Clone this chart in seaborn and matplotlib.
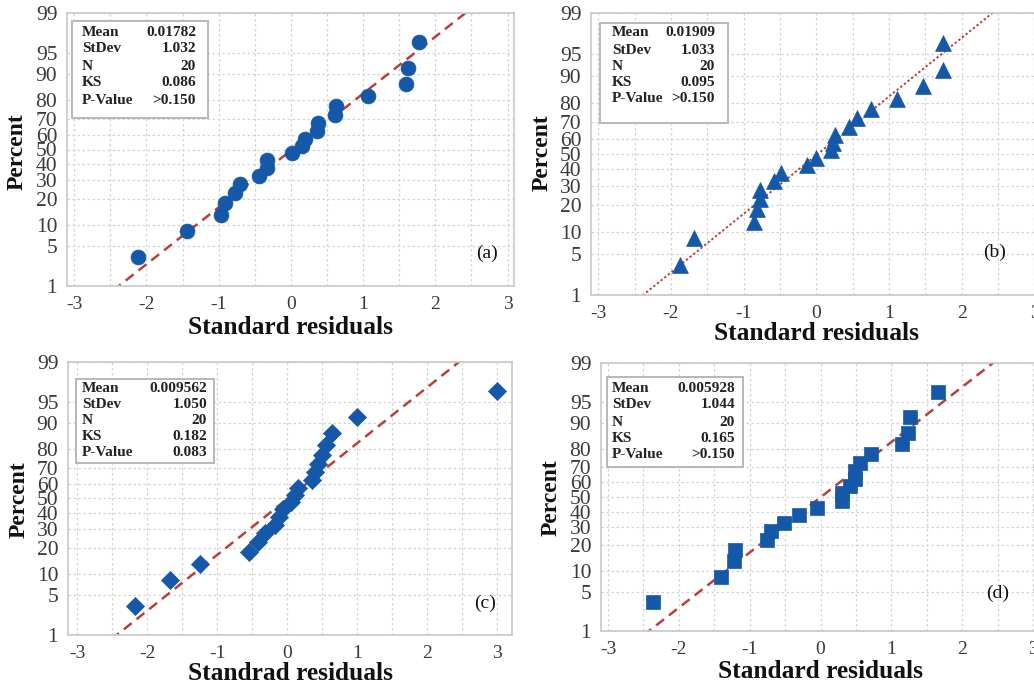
import math
import numpy as np
import matplotlib
matplotlib.use("Agg")
import matplotlib.pyplot as plt
import seaborn as sns
from matplotlib.patches import Rectangle

# ---------------- data ----------------
percent_pos = [3.4, 8.3, 13.2, 18.1, 23.0, 27.9, 32.8, 37.7, 42.6, 47.5,
               52.5, 57.4, 62.3, 67.2, 72.1, 77.0, 81.9, 86.8, 91.7, 96.6]

resid_a = [-2.11, -1.44, -0.97, -0.91, -0.78, -0.70, -0.44, -0.33, -0.33, 0.02,
           0.15, 0.19, 0.36, 0.37, 0.61, 0.63, 1.07, 1.59, 1.62, 1.78]
resid_b = [-1.88, -1.69, -0.86, -0.81, -0.78, -0.78, -0.58, -0.49, -0.13, 0.00,
           0.20, 0.23, 0.26, 0.45, 0.56, 0.75, 1.11, 1.47, 1.74, 1.74]
resid_c = [-2.18, -1.68, -1.25, -0.54, -0.42, -0.31, -0.18, -0.11, -0.06, 0.05,
           0.11, 0.15, 0.36, 0.40, 0.44, 0.49, 0.56, 0.64, 0.99, 2.99]
resid_d = [-2.36, -1.40, -1.22, -1.21, -0.75, -0.70, -0.52, -0.31, -0.05, 0.31,
           0.31, 0.41, 0.49, 0.49, 0.56, 0.71, 1.15, 1.24, 1.26, 1.66]

stat_names = ["Mean", "StDev", "N", "KS", "P-Value"]
stats_a = ["0.01782", "1.032", "20", "0.086", ">0.150"]
stats_b = ["0.01909", "1.033", "20", "0.095", ">0.150"]
stats_c = ["0.009562", "1.050", "20", "0.182", "0.083"]
stats_d = ["0.005928", "1.044", "20", "0.165", ">0.150"]

fit_a = (0.01782, 1.032)
fit_b = (0.01909, 1.033)
fit_c = (0.009562, 1.050)
fit_d = (0.005928, 1.044)

y_ticks = [1, 5, 10, 20, 30, 40, 50, 60, 70, 80, 90, 95, 99]
x_ticks = [-3, -2, -1, 0, 1, 2, 3]

# ---------------- normal helpers ----------------
_a = [-3.969683028665376e+01, 2.209460984245205e+02, -2.759285104469687e+02,
      1.383577518672690e+02, -3.066479806614716e+01, 2.506628277459239e+00]
_b = [-5.447609879822406e+01, 1.615858368580409e+02, -1.556989798598866e+02,
      6.680131188771972e+01, -1.328068155288572e+01]
_c = [-7.784894002430293e-03, -3.223964580411365e-01, -2.400758277161838e+00,
      -2.549732539343734e+00, 4.374664141464968e+00, 2.938163982698783e+00]
_d = [7.784695709041462e-03, 3.224671290700398e-01, 2.445134137142996e+00,
      3.754408661907416e+00]


def _ppf_scalar(p):
    p = min(max(p, 1e-12), 1 - 1e-12)
    plow = 0.02425
    if p < plow:
        q = math.sqrt(-2 * math.log(p))
        return (((((_c[0]*q+_c[1])*q+_c[2])*q+_c[3])*q+_c[4])*q+_c[5]) / \
               ((((_d[0]*q+_d[1])*q+_d[2])*q+_d[3])*q+1)
    if p > 1 - plow:
        q = math.sqrt(-2 * math.log(1 - p))
        return -(((((_c[0]*q+_c[1])*q+_c[2])*q+_c[3])*q+_c[4])*q+_c[5]) / \
                ((((_d[0]*q+_d[1])*q+_d[2])*q+_d[3])*q+1)
    q = p - 0.5
    r = q * q
    return (((((_a[0]*r+_a[1])*r+_a[2])*r+_a[3])*r+_a[4])*r+_a[5])*q / \
           (((((_b[0]*r+_b[1])*r+_b[2])*r+_b[3])*r+_b[4])*r+1)


def pct_to_z(v):
    v = np.asarray(v, dtype=float)
    out = np.array([_ppf_scalar(x / 100.0) if np.isfinite(x) else np.nan
                    for x in v.ravel()])
    return out.reshape(v.shape)


def z_to_pct(z):
    z = np.asarray(z, dtype=float)
    out = np.array([50.0 * (1 + math.erf(x / math.sqrt(2))) if np.isfinite(x) else np.nan
                    for x in z.ravel()])
    return out.reshape(z.shape)


# ---------------- figure ----------------
W, H = 1034, 689
sns.set_style("white")
plt.rcParams["font.family"] = ["Liberation Serif", "DejaVu Serif"]
fig = plt.figure(figsize=(W / 100, H / 100), dpi=100)

BLUE = "#1558a8"
RED = "#b8403a"
GRID = "#d4d4d4"
FRAME = "#c8c8c8"
TICKC = "#4a4a4a"


def px_ax(left, top, right, bottom):
    return fig.add_axes([left / W, 1 - bottom / H, (right - left) / W, (bottom - top) / H])


def fx(x):
    return x / W


def fy(y):
    return 1 - y / H


panels = [
    dict(box=(67, 13, 514, 286), xlim=(-3.1, 3.09), resid=resid_a, fit=fit_a, marker="o", ms=115,
         ls=(0, (4, 2.5)), lw=1.8, stats=stats_a, sbox=(72, 21, 208, 118), lab_x=82, val_x=196,
         rows=[32, 49, 66, 83, 100], tag="(a)", tag_xy=(487, 253), ylab=(17, 152),
         xlab_y=328, xlabel="Standard residuals"),
    dict(box=(591, 13, 1041, 295), xlim=(-3.1, 3.09), resid=resid_b, fit=fit_b, marker="^", ms=130,
         ls=(0, (1.2, 1.2)), lw=1.4, stats=stats_b, sbox=(600, 23, 728, 123), lab_x=612, val_x=715,
         rows=[33, 50, 66, 82, 99], tag="(b)", tag_xy=(995, 252), ylab=(542, 153),
         xlab_y=333, xlabel="Standard residuals"),
    dict(box=(68, 362, 512, 635), xlim=(-3.13, 3.21), resid=resid_c, fit=fit_c, marker="D", ms=85,
         ls=(0, (4, 2.5)), lw=1.8, stats=stats_c, sbox=(76, 379, 214, 463), lab_x=82, val_x=207,
         rows=[389, 405, 421, 437, 453], tag="(c)", tag_xy=(485, 603), ylab=(19, 500),
         xlab_y=673, xlabel="Standrad residuals"),
    dict(box=(601, 363, 1040, 631), xlim=(-3.1, 3.1), resid=resid_d, fit=fit_d, marker="s", ms=95,
         ls=(0, (4, 2.5)), lw=1.8, stats=stats_d, sbox=(607, 377, 743, 467), lab_x=612, val_x=735,
         rows=[388, 405, 422, 438, 455], tag="(d)", tag_xy=(998, 593), ylab=(551, 498),
         xlab_y=672, xlabel="Standard residuals"),
]

for p in panels:
    l, t, r, b = p["box"]
    ax = px_ax(l, t, r, b)
    ax.set_yscale("function", functions=(pct_to_z, z_to_pct))

    mean, sd = p["fit"]
    z_lo, z_hi = _ppf_scalar(0.005), _ppf_scalar(0.995)
    xf = np.linspace(mean + z_lo * sd, mean + z_hi * sd, 60)
    yf = z_to_pct((xf - mean) / sd)
    sns.lineplot(x=xf, y=yf, ax=ax, color=RED, linewidth=p["lw"], linestyle=p["ls"],
                 estimator=None, sort=False, zorder=2)

    sns.scatterplot(x=p["resid"], y=percent_pos, ax=ax, marker=p["marker"], s=p["ms"],
                    color=BLUE, edgecolor=BLUE, linewidth=0.5, zorder=3)

    ax.set_xlim(*p["xlim"])
    ax.set_ylim(1, 99)
    ax.set_yticks(y_ticks)
    ax.set_yticklabels([str(v) for v in y_ticks])
    ax.set_xticks(x_ticks)
    ax.set_xticklabels([str(v) for v in x_ticks])
    ax.set_xticks(np.arange(-2.5, 3.0, 1.0), minor=True)
    ax.yaxis.set_minor_locator(matplotlib.ticker.NullLocator())
    ax.tick_params(axis="y", which="major", labelsize=15.5, colors=TICKC, length=4, width=0.8,
                   direction="out", pad=3, labelcolor="#3a3a3a")
    ax.tick_params(axis="x", which="major", labelsize=14, colors=TICKC, length=0, pad=7,
                   labelcolor="#3a3a3a")
    ax.tick_params(axis="x", which="minor", length=0)
    for tk in ax.get_yticklines():
        tk.set_color(FRAME)
    ax.grid(True, axis="x", which="both", color=GRID, linestyle=(0, (2, 2)), linewidth=0.9)
    ax.grid(True, axis="y", which="major", color=GRID, linestyle=(0, (2, 2)), linewidth=0.9)
    ax.set_axisbelow(True)
    for sp in ax.spines.values():
        sp.set_color(FRAME)
        sp.set_linewidth(1.2)
    ax.set_xlabel("")
    ax.set_ylabel("")

    # axis titles
    fig.text(fx(p["ylab"][0]), fy(p["ylab"][1]), "Percent", rotation=90, ha="center", va="center",
             fontsize=17, fontweight="bold", color="#111111")
    fig.text(fx((l + min(r, 1041)) / 2), fy(p["xlab_y"]), p["xlabel"], ha="center", va="center",
             fontsize=18.3, fontweight="bold", color="#111111")

    # panel tag
    fig.text(fx(p["tag_xy"][0]), fy(p["tag_xy"][1]), p["tag"], ha="center", va="center",
             fontsize=14, color="#111111")

    # stats box
    sx0, sy0, sx1, sy1 = p["sbox"]
    fig.patches.append(Rectangle((fx(sx0), fy(sy1)), (sx1 - sx0) / W, (sy1 - sy0) / H,
                                 transform=fig.transFigure, facecolor="white",
                                 edgecolor="#b8b8b8", linewidth=1.4, zorder=5))
    for name, val, ry in zip(stat_names, p["stats"], p["rows"]):
        fig.text(fx(p["lab_x"]), fy(ry), name, ha="left", va="center", fontsize=11.1,
                 fontweight="bold", color="#222222", zorder=6)
        fig.text(fx(p["val_x"]), fy(ry), val, ha="right", va="center", fontsize=11.1,
                 fontweight="bold", color="#222222", zorder=6)

fig.savefig("out.png", dpi=100)
